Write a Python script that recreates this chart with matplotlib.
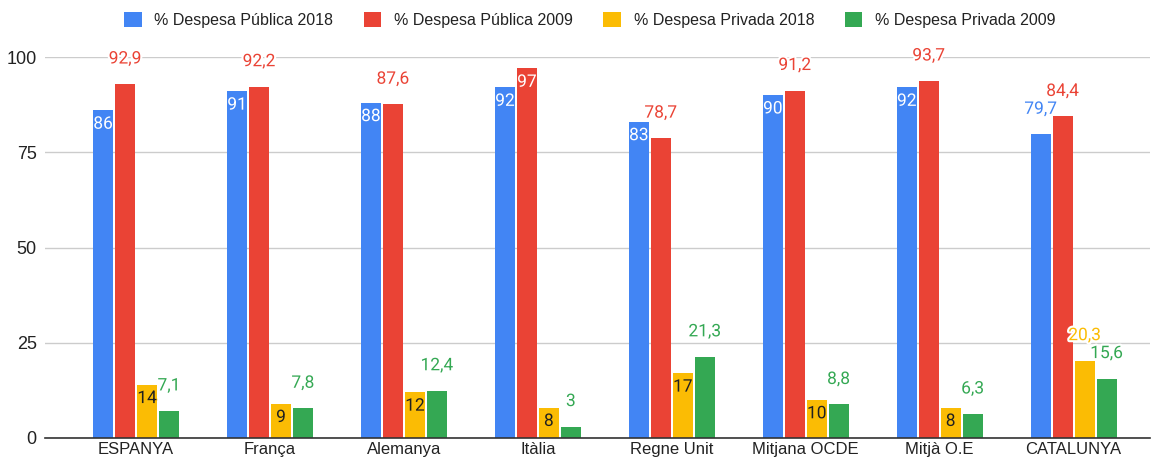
import numpy as np
import matplotlib as mpl
mpl.use('Agg')
import matplotlib.pyplot as plt
import matplotlib.patheffects as pe

# data
paisos = ['ESPANYA', 'França', 'Alemanya', 'Itàlia', 'Regne Unit',
          'Mitjana OCDE', 'Mitjà O.E', 'CATALUNYA']
publica_2018 = [86, 91, 88, 92, 83, 90, 92, 79.7]
publica_2009 = [92.9, 92.2, 87.6, 97, 78.7, 91.2, 93.7, 84.4]
privada_2018 = [14, 9, 12, 8, 17, 10, 8, 20.3]
privada_2009 = [7.1, 7.8, 12.4, 3, 21.3, 8.8, 6.3, 15.6]
series_noms = ['% Despesa Pública 2018', '% Despesa Pública 2009',
               '% Despesa Privada 2018', '% Despesa Privada 2009']
yticks = [0, 25, 50, 75, 100]

colors = ['#4285F4', '#EA4335', '#FBBC04', '#34A853']
inside_colors = ['white', 'white', '#202020', 'white']

plt.rcParams['font.family'] = ['Liberation Sans', 'DejaVu Sans']

fig = plt.figure(figsize=(11.52, 4.62), dpi=100)
ax = fig.add_axes([45/1152, 24/462, 1105/1152, (438-57)/462])

x = np.arange(len(paisos))
step = 0.164
width = 0.149
allseries = [publica_2018, publica_2009, privada_2018, privada_2009]

def fmt(v):
	if float(v).is_integer():
		return str(int(v))
	return ('%.1f' % v).replace('.', ',')

for i, vals in enumerate(allseries):
	xs = x + (i - 1.5)*step
	ax.bar(xs, vals, width, color=colors[i], label=series_noms[i], zorder=3)
	for xi, v in zip(xs, vals):
		# integer labels that fit go inside the bar, the rest above
		if float(v).is_integer() and v >= 5:
			ax.annotate(fmt(v), (xi, v), xytext=(0, -10), textcoords='offset points',
				ha='center', va='center', fontsize=12.5, family='Roboto',
				color=inside_colors[i], zorder=4,
				path_effects=[pe.withStroke(linewidth=1.2, foreground=colors[i])])
		else:
			ax.annotate(fmt(v), (xi, v), xytext=(0, 18), textcoords='offset points',
				ha='center', va='center', fontsize=12.5, family='Roboto',
				color=colors[i], zorder=4, annotation_clip=False,
				path_effects=[pe.withStroke(linewidth=3, foreground='white')])

ax.set_xlim(-0.68, 7.57)
ax.set_ylim(0, 100)
ax.set_yticks(yticks)
ax.set_xticks(x)
ax.set_xticklabels(paisos, fontsize=12, color='#222222')
ax.tick_params(axis='y', labelsize=13, colors='#222222', length=0, pad=6)
ax.tick_params(axis='x', length=0, pad=3)
ax.grid(axis='y', color='#cccccc', linewidth=1, zorder=0)
for s in ['top', 'right', 'left']:
	ax.spines[s].set_visible(False)
ax.spines['bottom'].set_color('#333333')
ax.spines['bottom'].set_linewidth(1.2)
ax.spines['bottom'].set_zorder(5)

leg = fig.legend(loc='center', bbox_to_anchor=(0.512, 1 - 20/462), ncol=4, frameon=False,
	fontsize=11.5, handlelength=1.1, handleheight=1.1, handletextpad=0.8,
	columnspacing=1.9)
for t in leg.get_texts():
	t.set_color('#222222')

plt.savefig('out.png', dpi=100)
